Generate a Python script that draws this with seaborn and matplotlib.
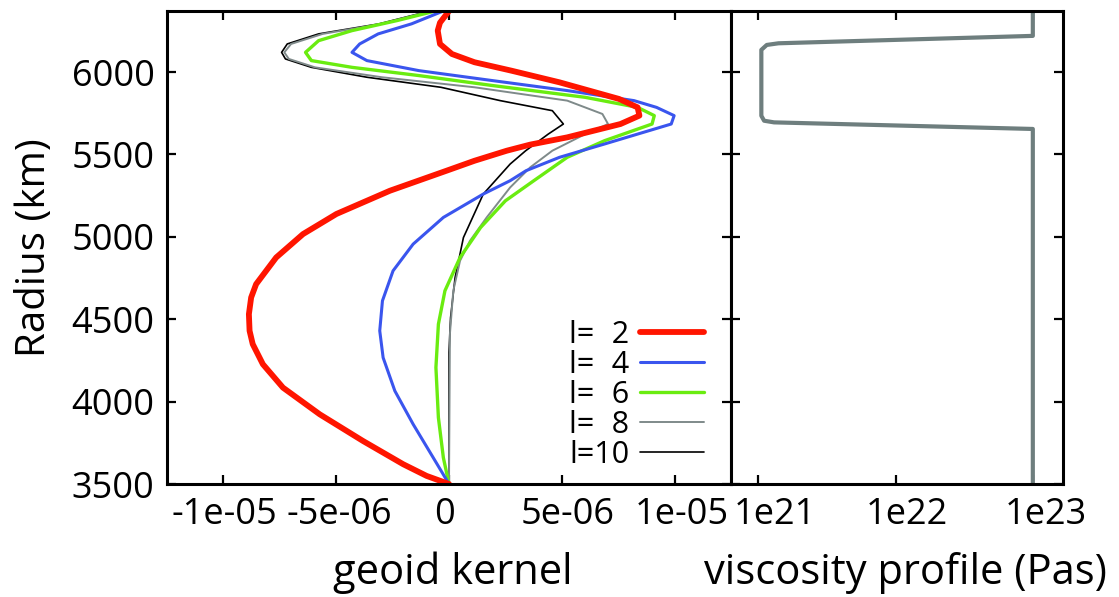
import numpy as np
import matplotlib
matplotlib.use("Agg")
import matplotlib.pyplot as plt
import matplotlib.transforms as mtransforms
import seaborn as sns
from matplotlib.ticker import NullLocator

# ---------------- data ----------------
degrees = [2, 4, 6, 8, 10]

# radius (km) and geoid kernel (units of 1e-6)
r_l2 = [6371, 6300, 6252, 6171, 6110, 6060, 6009, 5938, 5837, 5786, 5736, 5685, 5604, 5560,
        5523, 5462, 5402, 5280, 5139, 5017, 4875, 4713, 4632, 4531, 4430, 4349, 4227, 4085,
        3923, 3761, 3620, 3549, 3500]
k_l2 = [0.0, -0.4, -0.5, -0.4, 0.13, 1.13, 2.76, 4.9, 7.54, 8.36, 8.44, 7.6, 5.24, 3.6,
        2.56, 1.13, -0.1, -2.62, -4.99, -6.47, -7.66, -8.55, -8.77, -8.87, -8.84, -8.7, -8.25,
        -7.36, -5.73, -3.81, -2.03, -0.99, 0.0]

r_l4 = [6371, 6293, 6232, 6171, 6120, 6070, 6009, 5948, 5888, 5827, 5786, 5736, 5685, 5564,
        5483, 5402, 5341, 5260, 5118, 4956, 4794, 4612, 4430, 4267, 4065, 3863, 3660, 3500]
k_l4 = [-0.25, -1.66, -3.14, -3.96, -4.3, -3.64, -1.33, 1.96, 5.24, 8.2, 9.2, 9.98, 9.85, 6.9,
        4.9, 3.42, 2.71, 1.52, -0.25, -1.59, -2.48, -2.95, -3.07, -2.92, -2.4, -1.59, -0.7, 0.0]

r_l6 = [6371, 6313, 6252, 6191, 6120, 6070, 6029, 5979, 5918, 5847, 5786, 5736, 5685, 5584,
        5483, 5341, 5219, 5057, 4875, 4673, 4470, 4207, 3903, 3660, 3500]
k_l6 = [-0.6, -2.3, -4.3, -5.78, -6.36, -6.1, -4.3, -1.33, 1.96, 6.04, 8.36, 9.1, 9.0, 6.9,
        5.24, 3.76, 2.5, 1.4, 0.49, -0.18, -0.47, -0.58, -0.47, -0.25, 0.0]

r_l8 = [6371, 6293, 6232, 6171, 6120, 6080, 6029, 5969, 5908, 5827, 5746, 5685, 5624, 5523,
        5422, 5300, 5118, 4976, 4855, 4673, 4410, 3500]
k_l8 = [-0.8, -2.98, -5.6, -7.0, -7.3, -7.1, -5.94, -2.98, 1.13, 5.24, 6.8, 7.05, 6.04, 4.58,
        3.6, 2.71, 1.67, 0.93, 0.49, 0.19, 0.04, 0.0]

r_l10 = [6371, 6293, 6232, 6171, 6120, 6080, 6029, 5969, 5908, 5827, 5766, 5685, 5624, 5523,
         5442, 5260, 4996, 4753, 4510, 4300, 3500]
k_l10 = [-0.85, -3.1, -5.78, -7.17, -7.42, -7.25, -6.1, -3.64, -0.36, 2.27, 4.58, 5.07, 4.4, 3.4,
         2.71, 1.52, 0.64, 0.27, 0.07, 0.0, 0.0]

# viscosity profile
visc_radius = [6371, 6220, 6175, 6165, 6135, 5735, 5705, 5695, 5655, 3500]
visc_value = [1e23, 1e23, 1.4e21, 1.15e21, 1.05e21, 1.05e21, 1.1e21, 1.3e21, 1e23, 1e23]

# ticks
kernel_ticks = [-1e-5, -5e-6, 0.0, 5e-6, 1e-5]
kernel_ticklabels = ["-1e-05", "-5e-06", "0", "5e-06", "1e-05"]
visc_ticks = [1e21, 1e22, 1e23]
visc_ticklabels = ["1e21", "1e22", "1e23"]
radius_ticks = [3500, 4000, 4500, 5000, 5500, 6000]

# ---------------- style ----------------
colors = {2: "#ff1500", 4: "#3a55ee", 6: "#6aec10", 8: "#7f8a8a", 10: "#000000"}
widths = {2: 4.2, 4: 2.2, 6: 2.4, 8: 1.4, 10: 1.2}

sns.set_style("white")
plt.rcParams['font.family'] = ['Open Sans', 'DejaVu Sans']
plt.rcParams['text.color'] = 'black'
plt.rcParams['axes.labelcolor'] = 'black'
plt.rcParams['xtick.color'] = 'black'
plt.rcParams['ytick.color'] = 'black'

W, H = 1119, 597
fig = plt.figure(figsize=(W / 100, H / 100), dpi=100)
ax1 = fig.add_axes([167 / W, 1 - 484 / H, 564 / W, 473 / H])
ax2 = fig.add_axes([731 / W, 1 - 484 / H, 332 / W, 473 / H])


def legend_label(d):
    return "l=" + str(d).rjust(2, "\u2007")


def shift(artist, dx_px):
    artist.set_transform(artist.get_transform() +
                         mtransforms.ScaledTranslation(dx_px / 100, 0, fig.dpi_scale_trans))


series = {2: (r_l2, k_l2), 4: (r_l4, k_l4), 6: (r_l6, k_l6), 8: (r_l8, k_l8), 10: (r_l10, k_l10)}
for deg in reversed(degrees):
    r, k = series[deg]
    sns.lineplot(x=np.array(k) * 1e-6, y=np.array(r), ax=ax1, sort=False, estimator=None,
                 color=colors[deg], linewidth=widths[deg], label=legend_label(deg))

sns.lineplot(x=np.array(visc_value), y=np.array(visc_radius), ax=ax2, sort=False,
             estimator=None, color="#6e7e7e", linewidth=3.0, legend=False)

ax1.set_xlim(-1.25e-5, 1.25e-5)
ax1.set_ylim(3500, 6371)
ax2.set_xscale("log")
ax2.set_xlim(10 ** 20.8, 10 ** 23.22)
ax2.set_ylim(3500, 6371)

ax1.set_xticks(kernel_ticks)
ax1.set_xticklabels(kernel_ticklabels)
ax1.set_yticks(radius_ticks)
ax1.set_yticklabels([str(v) for v in radius_ticks])
ax2.set_xticks(visc_ticks)
ax2.set_xticklabels(visc_ticklabels)
ax2.xaxis.set_minor_locator(NullLocator())
ax2.set_yticks(radius_ticks)

for ax in (ax1, ax2):
    for s in ax.spines.values():
        s.set_linewidth(2.2)
        s.set_color("black")
        s.set_visible(True)
    ax.tick_params(direction="in", length=6.5, width=1.6, top=True, right=True,
                   bottom=True, left=True, labelsize=26, pad=9, colors="black")
    ax.grid(False)
ax2.tick_params(labelleft=False)

# small horizontal offsets of tick labels as in the original rendering (pixels)
for lab, dx in zip(ax1.get_xticklabels(), [1, 3, -5, 6, 7]):
    shift(lab, dx)
for lab, dx in zip(ax2.get_xticklabels(), [16, 11, 13]):
    shift(lab, dx)

ax1.set_xlabel("geoid kernel", fontsize=30, labelpad=14, color="black")
ax2.set_xlabel("viscosity profile (Pas)", fontsize=30, labelpad=14, color="black")
ax1.set_ylabel("Radius (km)", fontsize=29, labelpad=12, color="black")
ax2.set_ylabel("")
shift(ax1.xaxis.label, 4)
shift(ax2.xaxis.label, 8)

handles, labels = ax1.get_legend_handles_labels()
order = [labels.index(legend_label(d)) for d in degrees]
leg = ax1.legend([handles[i] for i in order], [labels[i] for i in order],
                 loc="lower right", bbox_to_anchor=(0.952, 0.03), frameon=False,
                 markerfirst=False, handlelength=2.1, handletextpad=0.35, labelspacing=0.0,
                 borderpad=0, borderaxespad=0, fontsize=22)
for t in leg.get_texts():
    t.set_color("black")

fig.savefig("out.png", dpi=100)
